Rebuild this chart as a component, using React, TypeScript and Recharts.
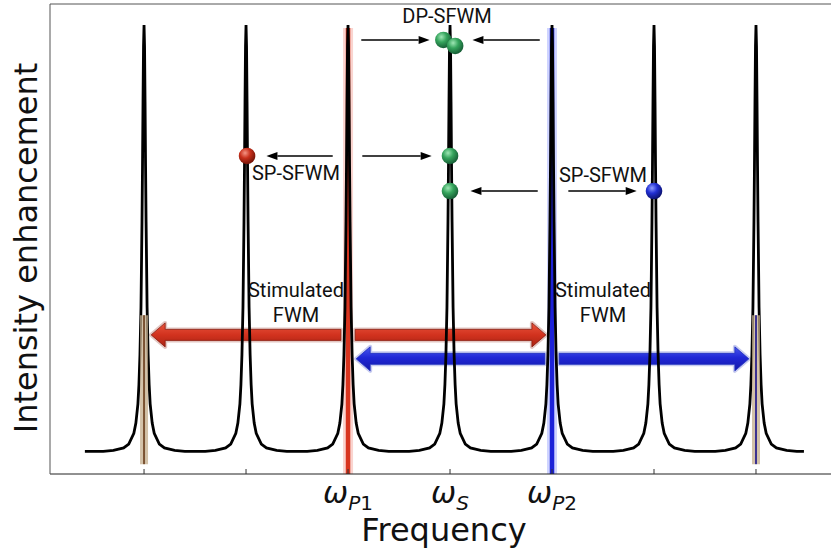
import React from 'react';
import { ComposedChart, Line, XAxis, YAxis, ReferenceLine, ReferenceDot } from 'recharts';

// single resonance lineshape, sampled from line centre outwards (offset in FSR units)
const lineOffsets = [0, 0.005, 0.01, 0.015, 0.02, 0.03, 0.04, 0.05, 0.06, 0.08, 0.1, 0.15, 0.2, 0.3, 0.4, 0.5];
const lineHeights = [1, 0.95, 0.82, 0.67, 0.54, 0.34, 0.23, 0.16, 0.115, 0.07, 0.046, 0.021, 0.012, 0.006, 0.004, 0.004];

// resonance order relative to the signal mode
const modes = [-3, -2, -1, 0, 1, 2, 3];
const sweep = [-3.58, 3.47];

const tickSymbol = ['', '', 'P', 'S', 'P', '', ''];
const tickIndex = ['', '', '1', '', '2', '', ''];

const pumpModes = [-1, 1];
const idlerModes = [-3, 3];

// stimulated FWM arrows: [from, to, level]
const redArrows = [[-1.07, -2.93, 0.276], [-0.93, 0.94, 0.276]];
const blueArrows = [[0.93, -0.92, 0.22], [1.07, 2.93, 0.22]];

// photon flow arrows: [from, to, level]
const flowArrows = [
  [-0.87, -0.2, 0.965],
  [0.88, 0.22, 0.965],
  [-0.86, -0.18, 0.694],
  [-1.15, -1.8, 0.694],
  [0.86, 0.2, 0.612],
  [1.16, 1.83, 0.612],
];

// photons: [frequency, level]
const redPhotons = [[-1.99, 0.694]];
const greenPhotons = [[-0.065, 0.965], [0.05, 0.951], [0, 0.694], [0, 0.612]];
const bluePhotons = [[2, 0.612]];

const processLabels = ['DP-SFWM', 'SP-SFWM', 'SP-SFWM'];
const processX = [-0.03, -1.51, 1.5];
const processY = [1.005, 0.638, 0.634];

const stimLabelX = [-1.51, 1.5];
const stimLabelY = [0.365, 0.306];

// lay the lineshape onto every resonance of the comb
const comb: { f: number; I: number }[] = [];
modes.forEach((c) => {
  for (let i = lineOffsets.length - 1; i > 0; i--) comb.push({ f: c - lineOffsets[i], I: lineHeights[i] });
  for (let i = 0; i < lineOffsets.length; i++) comb.push({ f: c + lineOffsets[i], I: lineHeights[i] });
});
const spectrum = comb.filter((d) => d.f >= sweep[0] && d.f <= sweep[1]);
spectrum.unshift({ f: sweep[0], I: 0.004 });
spectrum.push({ f: sweep[1], I: 0.004 });

const X_DOMAIN: [number, number] = [-3.922, 3.804];
const Y_DOMAIN: [number, number] = [-0.049, 1.049];

const FreqTick = (props: any) => {
  const { x, y, payload } = props;
  const i = modes.indexOf(payload.value);
  const sym = tickSymbol[i];
  return (
    <g>
      <line x1={x} x2={x} y1={y - 5} y2={y} stroke="#333" strokeWidth={1} />
      {sym && (
        <text x={x} y={y + 29} textAnchor="middle" fontFamily="DejaVu Sans" fontSize={30} fontStyle="italic" fill="#111">
          ω
          <tspan fontSize={20} dy={7}>{sym}</tspan>
          {tickIndex[i] && <tspan fontSize={20} fontStyle="normal">{tickIndex[i]}</tspan>}
        </text>
      )}
    </g>
  );
};

const fatArrow = (grad: string, edge: string) => (p: any) => {
  const { x1, y1, x2 } = p;
  const dir = x2 > x1 ? 1 : -1;
  const neck = x2 - dir * 14;
  const d = `M${x1},${y1 - 5.5}H${neck}V${y1 - 12}L${x2},${y1}L${neck},${y1 + 12}V${y1 + 5.5}H${x1}Z`;
  return (
    <g>
      <path d={d} fill="none" stroke={edge} strokeWidth={4} strokeOpacity={0.25} strokeLinejoin="round" />
      <path d={d} fill={`url(#${grad})`} stroke={edge} strokeWidth={0.8} />
    </g>
  );
};

const thinArrow = (p: any) => {
  const { x1, y1, x2 } = p;
  const dir = x2 > x1 ? 1 : -1;
  const base = x2 - dir * 11;
  return (
    <g>
      <line x1={x1} y1={y1} x2={base} y2={y1} stroke="#000" strokeWidth={1.6} />
      <path d={`M${base},${y1 - 4}L${x2},${y1}L${base},${y1 + 4}Z`} fill="#000" />
    </g>
  );
};

const glowLine = (core: string, halo: string, width: number, haloWidth: number, haloOpacity: number) => (p: any) => (
  <g>
    <line x1={p.x1} y1={p.y1} x2={p.x2} y2={p.y2} stroke={halo} strokeWidth={haloWidth} strokeOpacity={haloOpacity} />
    <line x1={p.x1} y1={p.y1} x2={p.x2} y2={p.y2} stroke={core} strokeWidth={width} />
  </g>
);

const photon = (grad: string) => (p: any) => <circle cx={p.cx} cy={p.cy} r={8.3} fill={`url(#${grad})`} />;

const caption = (text: string) => (p: any) => (
  <text x={p.cx} y={p.cy} textAnchor="middle" fontFamily="Roboto" fontSize={20} fill="#111">
    {text}
  </text>
);

export default function App() {
  return (
    <div style={{ position: 'absolute', left: 0, top: 0, width: 831, height: 554, overflow: 'hidden', background: '#fff' }}>
      <ComposedChart width={850} height={554} data={spectrum} margin={{ top: 4, right: 12, bottom: 0, left: 0 }}>
        <defs>
          <linearGradient id="redBar" x1="0" y1="0" x2="0" y2="1">
            <stop offset="0" stopColor="#e8553e" />
            <stop offset="0.5" stopColor="#d2321e" />
            <stop offset="1" stopColor="#a82414" />
          </linearGradient>
          <linearGradient id="blueBar" x1="0" y1="0" x2="0" y2="1">
            <stop offset="0" stopColor="#4a58ee" />
            <stop offset="0.45" stopColor="#1f27d6" />
            <stop offset="1" stopColor="#1418a8" />
          </linearGradient>
          <radialGradient id="redBall" cx="0.38" cy="0.32" r="0.7">
            <stop offset="0" stopColor="#f59484" />
            <stop offset="0.45" stopColor="#c8301c" />
            <stop offset="1" stopColor="#6e1206" />
          </radialGradient>
          <radialGradient id="greenBall" cx="0.38" cy="0.32" r="0.7">
            <stop offset="0" stopColor="#9ee6b4" />
            <stop offset="0.45" stopColor="#35a45c" />
            <stop offset="1" stopColor="#155a34" />
          </radialGradient>
          <radialGradient id="blueBall" cx="0.38" cy="0.32" r="0.7">
            <stop offset="0" stopColor="#8f9cff" />
            <stop offset="0.45" stopColor="#2230d4" />
            <stop offset="1" stopColor="#0a1068" />
          </radialGradient>
        </defs>

        <XAxis
          dataKey="f"
          type="number"
          domain={X_DOMAIN}
          allowDataOverflow
          ticks={modes}
          interval={0}
          tick={<FreqTick />}
          tickLine={false}
          tickSize={0}
          tickMargin={0}
          height={80}
          axisLine={{ stroke: '#222', strokeWidth: 1 }}
          label={{
            content: (p: any) => (
              <text x={p.viewBox.x + p.viewBox.width / 2} y={p.viewBox.y + 67} textAnchor="middle" fontFamily="DejaVu Sans" fontSize={32} fill="#111">
                Frequency
              </text>
            ),
          }}
        />
        <YAxis
          type="number"
          domain={Y_DOMAIN}
          allowDataOverflow
          width={50}
          tick={false}
          tickLine={false}
          axisLine={{ stroke: '#555', strokeWidth: 1 }}
          label={{
            content: () => (
              <text x={37} y={248} transform="rotate(-90 37 248)" textAnchor="middle" fontFamily="DejaVu Sans" fontSize={32} fill="#111">
                Intensity enhancement
              </text>
            ),
          }}
        />
        <ReferenceLine y={Y_DOMAIN[1]} stroke="#555" strokeWidth={1} />

        {pumpModes.map((f, i) => (
          <ReferenceLine
            key={`pump${i}`}
            segment={[{ x: f, y: Y_DOMAIN[0] }, { x: f, y: 0.993 }]}
            shape={i === 0 ? glowLine('#d8351f', '#f07060', 4.5, 10, 0.3) : glowLine('#1c22d8', '#6070ff', 4.5, 10, 0.3)}
            zIndex={300}
          />
        ))}

        {redArrows.map((a, i) => (
          <ReferenceLine key={`ra${i}`} segment={[{ x: a[0], y: a[2] }, { x: a[1], y: a[2] }]} shape={fatArrow('redBar', '#8a1a0c')} zIndex={350} />
        ))}
        {blueArrows.map((a, i) => (
          <ReferenceLine key={`ba${i}`} segment={[{ x: a[0], y: a[2] }, { x: a[1], y: a[2] }]} shape={fatArrow('blueBar', '#2030c0')} zIndex={350} />
        ))}

        <Line dataKey="I" type="linear" stroke="#000" strokeWidth={2.8} dot={false} activeDot={false} isAnimationActive={false} zIndex={400} />

        {idlerModes.map((f, i) => (
          <ReferenceLine
            key={`idler${i}`}
            segment={[{ x: f, y: -0.026 }, { x: f, y: 0.322 }]}
            shape={glowLine(i === 0 ? '#7a5232' : '#3c3290', '#c4ad8c', 2, 8, 0.75)}
            zIndex={450}
          />
        ))}

        {flowArrows.map((a, i) => (
          <ReferenceLine key={`fa${i}`} segment={[{ x: a[0], y: a[2] }, { x: a[1], y: a[2] }]} shape={thinArrow} zIndex={600} />
        ))}

        {redPhotons.map((p, i) => (
          <ReferenceDot key={`rp${i}`} x={p[0]} y={p[1]} r={8} shape={photon('redBall')} zIndex={700} />
        ))}
        {greenPhotons.map((p, i) => (
          <ReferenceDot key={`gp${i}`} x={p[0]} y={p[1]} r={8} shape={photon('greenBall')} zIndex={700} />
        ))}
        {bluePhotons.map((p, i) => (
          <ReferenceDot key={`bp${i}`} x={p[0]} y={p[1]} r={8} shape={photon('blueBall')} zIndex={700} />
        ))}

        {processLabels.map((t, i) => (
          <ReferenceDot key={`pl${i}`} x={processX[i]} y={processY[i]} r={0} shape={caption(t)} zIndex={800} />
        ))}
        {stimLabelX.map((x, i) => (
          <React.Fragment key={`sl${i}`}>
            <ReferenceDot x={x} y={stimLabelY[0]} r={0} shape={caption('Stimulated')} zIndex={800} />
            <ReferenceDot x={x} y={stimLabelY[1]} r={0} shape={caption('FWM')} zIndex={800} />
          </React.Fragment>
        ))}
      </ComposedChart>
    </div>
  );
}
